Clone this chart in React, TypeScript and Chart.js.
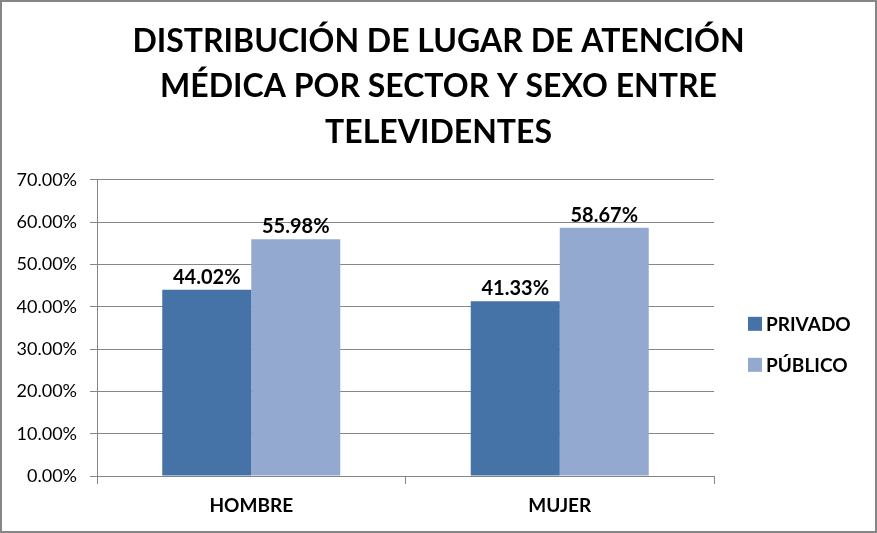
import React, { useRef, useEffect } from 'react';
import { Chart, registerables } from 'chart.js';

Chart.register(...registerables);

const categories = ['HOMBRE', 'MUJER'];
const seriesNames = ['PRIVADO', 'PÚBLICO'];
const privado = [44.02, 41.33];
const publico = [55.98, 58.67];
const seriesColors = ['#4572A7', '#93A9CF'];
const titleLines = [
  'DISTRIBUCIÓN DE LUGAR DE ATENCIÓN',
  'MÉDICA POR SECTOR Y SEXO ENTRE',
  'TELEVIDENTES',
];
const yMax = 70;
const yStep = 10;

const FONT = 'Lato, "Open Sans", sans-serif';
const GRID = '#868686';

// value labels above each bar
const barLabels = {
  id: 'barLabels',
  afterDatasetsDraw(chart: Chart) {
    const ctx = chart.ctx;
    ctx.save();
    ctx.font = `bold 20px ${FONT}`;
    ctx.fillStyle = '#000';
    ctx.textAlign = 'center';
    ctx.textBaseline = 'alphabetic';
    chart.data.datasets.forEach((ds, i) => {
      const meta = chart.getDatasetMeta(i);
      meta.data.forEach((bar: any, j) => {
        const v = ds.data[j] as number;
        ctx.fillText(v.toFixed(2) + '%', bar.x, bar.y - 6);
      });
    });
    ctx.restore();
  },
};

// legend drawn to the right of the plot
const sideLegend = {
  id: 'sideLegend',
  afterDraw(chart: Chart) {
    const { ctx, chartArea } = chart;
    ctx.save();
    ctx.font = `bold 19px ${FONT}`;
    ctx.textBaseline = 'middle';
    ctx.textAlign = 'left';
    chart.data.datasets.forEach((ds, i) => {
      const x = chartArea.right + 34;
      const cy = chartArea.top + 144 + i * 41;
      ctx.fillStyle = ds.backgroundColor as string;
      ctx.fillRect(x, cy - 7, 14, 14);
      ctx.fillStyle = '#000';
      ctx.fillText(ds.label as string, x + 18, cy + 1);
    });
    ctx.restore();
  },
};

export default function App() {
  const chartRef = useRef<HTMLCanvasElement>(null);
  const chartInstanceRef = useRef<Chart | null>(null);

  useEffect(() => {
    document.body.style.margin = '0';
    if (!chartRef.current) return;
    if (chartInstanceRef.current) chartInstanceRef.current.destroy();
    const ctx = chartRef.current.getContext('2d');
    if (!ctx) return;

    chartInstanceRef.current = new Chart(ctx, {
      type: 'bar',
      data: {
        labels: categories,
        datasets: [
          { label: seriesNames[0], data: privado, backgroundColor: seriesColors[0] },
          { label: seriesNames[1], data: publico, backgroundColor: seriesColors[1] },
        ],
      },
      options: {
        responsive: false,
        animation: false,
        devicePixelRatio: 1,
        layout: { padding: 0 },
        datasets: {
          bar: { categoryPercentage: 0.577, barPercentage: 1 },
        },
        plugins: {
          legend: { display: false },
          tooltip: { enabled: false },
          title: {
            display: true,
            text: titleLines,
            color: '#000',
            font: { family: FONT, size: 32, weight: 'bold', lineHeight: 1.42 },
            padding: { top: 17, bottom: 24.5 },
          },
        },
        scales: {
          x: {
            grid: { drawOnChartArea: false, color: GRID, tickLength: 8, offset: true },
            border: { color: GRID },
            ticks: {
              color: '#000',
              padding: 10,
              font: { family: FONT, size: 19, weight: 'bold' },
            },
            afterFit(scale: any) {
              scale.height = 55;
            },
          },
          y: {
            min: 0,
            max: yMax,
            grid: { color: GRID, tickLength: 7 },
            border: { color: GRID },
            ticks: {
              stepSize: yStep,
              color: '#000',
              padding: 13,
              font: { family: FONT, size: 18 },
              callback: (v: any) => Number(v).toFixed(2) + '%',
            },
            afterFit(scale: any) {
              scale.width = 95;
            },
          },
          // empty axis that only keeps room for the legend
          spacer: {
            position: 'right',
            display: true,
            grid: { display: false },
            border: { display: false },
            ticks: { display: false },
            afterFit(scale: any) {
              scale.width = 161;
            },
          },
        },
      },
      plugins: [barLabels, sideLegend],
    });

    return () => {
      if (chartInstanceRef.current) {
        chartInstanceRef.current.destroy();
        chartInstanceRef.current = null;
      }
    };
  }, []);

  return (
    <div
      style={{
        width: 877,
        height: 533,
        boxSizing: 'border-box',
        border: '2px solid #868686',
        background: '#fff',
      }}
    >
      <canvas ref={chartRef} width={873} height={529} style={{ display: 'block' }} />
    </div>
  );
}
